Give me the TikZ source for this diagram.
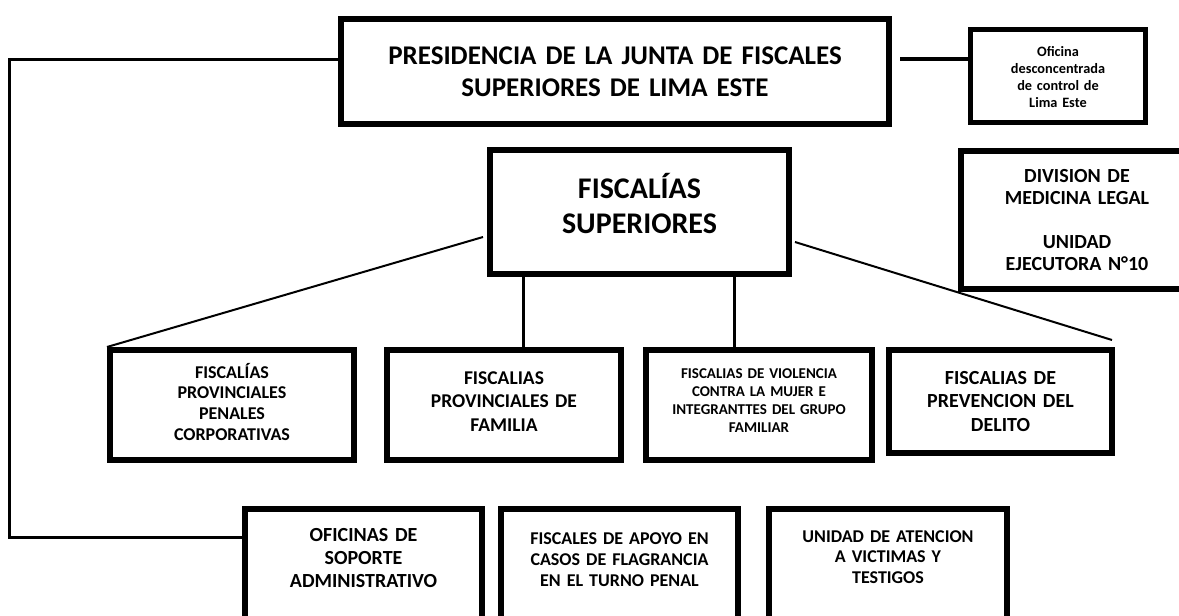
\documentclass[tikz,border=0pt]{standalone}
\usepackage{fontspec}
\setmainfont{Carlito}
\usetikzlibrary{positioning}

\begin{document}
\begin{tikzpicture}[
    x=1pt, y=-1pt,
    entity/.style = {
      draw, line width=6pt,
      align=center,
      inner sep=0pt
    },
    fs/.style 2 args = {font=\bfseries\fontsize{#1}{#2}\selectfont},
    link/.style     = {line width=3pt},
    thinlink/.style = {line width=2pt}
  ]

    \clip (0,0) rectangle (1179,616);

    % top level
    \node[entity, fs={27}{32}, text width=548pt, minimum height=105pt] (pres) at (615,71.5)
      {PRESIDENCIA DE LA JUNTA DE FISCALES\\SUPERIORES DE LIMA ESTE};

    \node[entity, line width=5pt, fs={14.3}{17}, text width=175pt,
          text height=27pt, text depth=66pt, anchor=north west] (ofi) at (968,27)
      {Oficina\\desconcentrada\\de control de\\Lima Este};

    \node[entity, fs={30}{35}, text width=299pt, text height=48pt, text depth=76pt] (sup) at (639.5,212)
      {FISCALÍAS\\SUPERIORES};

    \node[entity, fs={20}{22}, text width=232pt, minimum height=138pt, anchor=north west] (div) at (958,148)
      {DIVISION DE\\MEDICINA LEGAL\\[22pt]UNIDAD\\EJECUTORA N°10};

    % second row
    \node[entity, fs={18}{20.8}, text width=244pt, text height=28pt, text depth=82pt] (fpp) at (232,405)
      {FISCALÍAS\\PROVINCIALES\\PENALES\\CORPORATIVAS};
    \node[entity, fs={19.5}{23.5}, text width=234pt, text height=34.3pt, text depth=75.7pt,
          right=27pt of fpp] (fpf)
      {FISCALIAS\\PROVINCIALES DE\\FAMILIA};
    \node[entity, fs={15}{18}, text width=226pt, text height=28pt, text depth=82pt,
          right=19pt of fpf] (fvm)
      {FISCALIAS DE VIOLENCIA\\CONTRA LA MUJER E\\INTEGRANTTES DEL GRUPO\\FAMILIAR};
    \node[entity, fs={20}{23.5}, text width=223pt, minimum height=103pt,
          right=11pt of fvm.north east, anchor=north west] (fpd)
      {FISCALIAS DE\\PREVENCION DEL\\DELITO};

    % third row
    \node[entity, fs={20}{23}, text width=237pt, text height=32.5pt, text depth=127.5pt,
          anchor=north west] (sop) at (242,506)
      {OFICINAS DE\\SOPORTE\\ADMINISTRATIVO};
    \node[entity, fs={18}{21}, text width=237pt, text height=35pt, text depth=125pt,
          right=13pt of sop] (fla)
      {FISCALES DE APOYO EN\\CASOS DE FLAGRANCIA\\EN EL TURNO PENAL};
    \node[entity, fs={18}{20.5}, text width=238pt, text height=33pt, text depth=127pt,
          right=25pt of fla] (uav)
      {UNIDAD DE ATENCION\\A VICTIMAS Y\\TESTIGOS};

    % connectors
    \coordinate (topbend) at (9,59);
    \coordinate (lowbend) at (9,537);
    \draw[link] ([yshift=12.5pt]pres.west) -- (topbend) -- (lowbend) -- (lowbend -| sop.west);

    \coordinate (ofiline) at ([xshift=8pt,yshift=12.5pt]pres.east);
    \draw[line width=4pt] (ofiline) -- (ofiline -| ofi.west);

    \draw[thinlink] ([xshift=-4pt,yshift=-25pt]sup.west) -- (fpp.north west);
    \draw[thinlink] ([xshift=3pt,yshift=-30pt]sup.east) -- ([xshift=-3pt,yshift=7pt]fpd.north east);

    \coordinate (famtop) at ([xshift=19pt]fpf.north);
    \coordinate (viotop) at ([xshift=-25pt]fvm.north);
    \draw[link] (famtop) -- (famtop |- sup.south);
    \draw[link] (viotop) -- (viotop |- sup.south);

\end{tikzpicture}
\end{document}
